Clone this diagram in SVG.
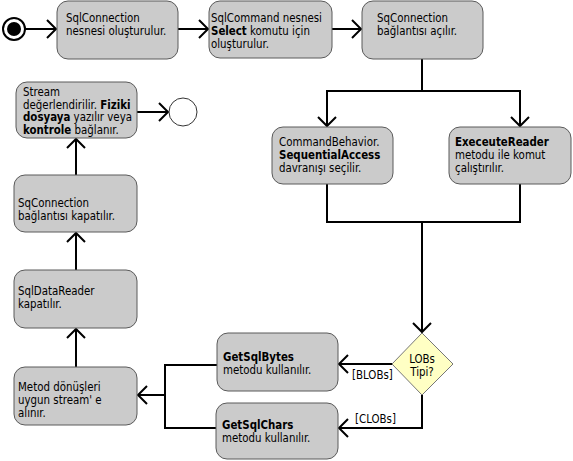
<svg xmlns="http://www.w3.org/2000/svg" width="573" height="461" viewBox="0 0 573 461">
<defs>
<style>
.n{fill:#cbcbcb;stroke:#5a5a5a;stroke-width:1}
.t{font-family:"DejaVu Sans Condensed","DejaVu Sans","Liberation Sans",sans-serif;font-size:11.4px;fill:#000}
.b{font-weight:bold}
.c{fill:none;stroke:#000;stroke-width:2}
.a{marker-end:url(#ah)}
</style>
<marker id="ah" markerUnits="userSpaceOnUse" markerWidth="14" markerHeight="20" refX="10" refY="10" orient="auto" viewBox="0 0 14 20">
<path d="M1,1 L10,10 L1,19" fill="none" stroke="#000" stroke-width="2"/>
</marker>
</defs>
<rect width="573" height="461" fill="#fff"/>
<g id="connectors">
<path class="c a" d="M25,29 H56"/>
<path class="c a" d="M178,29 H208"/>
<path class="c a" d="M332,29 H361"/>
<path class="c a" d="M422,59 V91 H327 V126"/>
<path class="c a" d="M422,91 H520 V126"/>
<path class="c" d="M327,184 V222 H520 V184"/>
<path class="c a" d="M422,222 V332"/>
<path class="c a" d="M392,364 H339"/>
<path class="c a" d="M422,395 V428 H339"/>
<path class="c" d="M217,365 H165 V428 H216"/>
<path class="c a" d="M165,395 H138"/>
<path class="c a" d="M76,367 V329"/>
<path class="c a" d="M76,270 V233"/>
<path class="c a" d="M76,175 V139"/>
<path class="c a" d="M137,112 H168"/>
<text class="t" x="352" y="379">[BLOBs]</text>
<text class="t" x="355" y="423">[CLOBs]</text>
</g>
<g id="start">
<circle cx="14" cy="29" r="11" fill="#fff" stroke="#000" stroke-width="2"/>
<circle cx="14" cy="29" r="7" fill="#000"/>
</g>
<g id="n1">
<rect class="n" x="57" y="1" width="121" height="58" rx="11"/>
<text class="t" x="66" y="22">SqlConnection</text>
<text class="t" x="66" y="35">nesnesi oluşturulur.</text>
</g>
<g id="n2">
<rect class="n" x="209" y="1" width="123" height="57" rx="11"/>
<text class="t" x="211" y="22">SqlCommand nesnesi</text>
<text class="t" x="211" y="35"><tspan class="b">Select</tspan> komutu için</text>
<text class="t" x="211" y="48">oluşturulur.</text>
</g>
<g id="n3">
<rect class="n" x="362" y="1" width="121" height="58" rx="11"/>
<text class="t" x="377" y="22">SqConnection</text>
<text class="t" x="377" y="35">bağlantısı açılır.</text>
</g>
<g id="n4">
<rect class="n" x="272" y="127" width="121" height="57" rx="11"/>
<text class="t" x="279" y="146">CommandBehavior.</text>
<text class="t b" x="279" y="159">SequentialAccess</text>
<text class="t" x="279" y="172">davranışı seçilir.</text>
</g>
<g id="n5">
<rect class="n" x="449" y="127" width="122" height="57" rx="11"/>
<text class="t b" x="455" y="146">ExeceuteReader</text>
<text class="t" x="455" y="159">metodu ile komut</text>
<text class="t" x="455" y="172">çalıştırılır.</text>
</g>
<g id="decision">
<polygon points="422,333 453,364 422,395 392,364" fill="#ffffc4" stroke="#777" stroke-width="1"/>
<text class="t" x="422" y="363" text-anchor="middle">LOBs</text>
<text class="t" x="422" y="376" text-anchor="middle">Tipi?</text>
</g>
<g id="n6">
<rect class="n" x="217" y="333" width="121" height="58" rx="11"/>
<text class="t b" x="223" y="361">GetSqlBytes</text>
<text class="t" x="223" y="374">metodu kullanılır.</text>
</g>
<g id="n7">
<rect class="n" x="216" y="403" width="122" height="56" rx="11"/>
<text class="t b" x="222" y="429">GetSqlChars</text>
<text class="t" x="222" y="442">metodu kullanılır.</text>
</g>
<g id="n8">
<rect class="n" x="14" y="367" width="123" height="58" rx="11"/>
<text class="t" x="18" y="391">Metod dönüşleri</text>
<text class="t" x="18" y="404">uygun stream' e</text>
<text class="t" x="18" y="417">alınır.</text>
</g>
<g id="n9">
<rect class="n" x="14" y="270" width="123" height="58" rx="11"/>
<text class="t" x="18" y="295">SqlDataReader</text>
<text class="t" x="18" y="308">kapatılır.</text>
</g>
<g id="n10">
<rect class="n" x="14" y="175" width="123" height="57" rx="11"/>
<text class="t" x="18" y="207">SqConnection</text>
<text class="t" x="18" y="220">bağlantısı kapatılır.</text>
</g>
<g id="n11">
<rect class="n" x="16" y="82" width="121" height="56" rx="11"/>
<text class="t" x="23" y="96">Stream</text>
<text class="t" x="23" y="108.5">değerlendirilir. <tspan class="b">Fiziki</tspan></text>
<text class="t" x="23" y="121"><tspan class="b">dosyaya</tspan> yazılır veya</text>
<text class="t" x="23" y="133.5"><tspan class="b">kontrole</tspan> bağlanır.</text>
</g>
<g id="end">
<circle cx="183" cy="112" r="14" fill="#fff" stroke="#333" stroke-width="1"/>
</g>
</svg>
